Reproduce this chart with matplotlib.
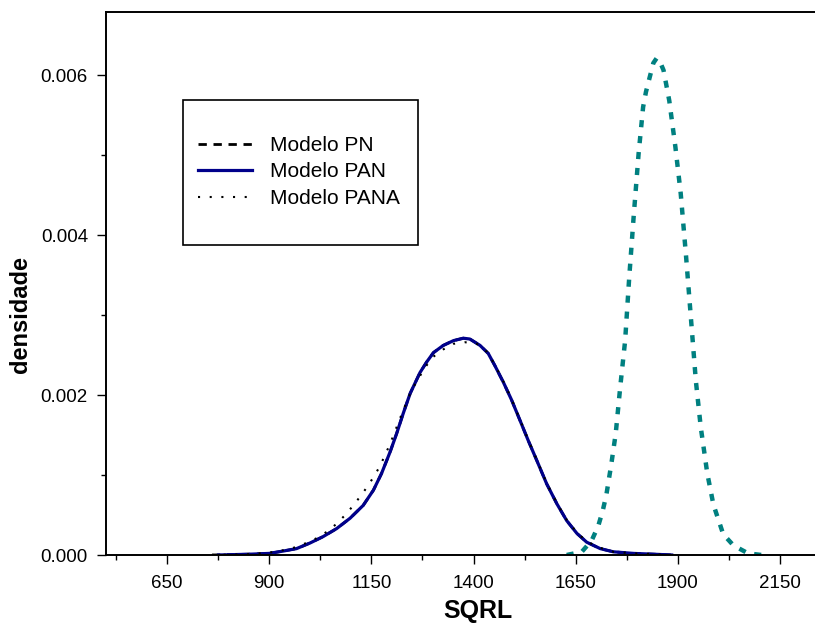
import numpy as np
import matplotlib
matplotlib.use("Agg")
import matplotlib.pyplot as plt
from matplotlib.patches import Rectangle
from matplotlib.ticker import FixedLocator, FormatStrFormatter

plt.rcParams['font.family'] = ['Liberation Sans', 'DejaVu Sans']

# curvas (densidade em unidades de 1e-3)
pan_x = [776, 853, 900, 935, 967, 1000, 1032, 1065, 1098, 1130, 1155, 1175, 1196,
         1212, 1228, 1245, 1269, 1285, 1302, 1326, 1351, 1375, 1391, 1416, 1436,
         1452, 1473, 1493, 1514, 1534, 1555, 1579, 1604, 1628, 1653, 1677, 1710,
         1742, 1791, 1840, 1885]
pan_y = [0.0, 0.01, 0.02, 0.05, 0.08, 0.15, 0.23, 0.33, 0.46, 0.62, 0.81, 1.02, 1.29,
         1.52, 1.77, 2.02, 2.28, 2.41, 2.53, 2.62, 2.68, 2.71, 2.70, 2.62, 2.52,
         2.37, 2.16, 1.94, 1.68, 1.43, 1.18, 0.89, 0.64, 0.43, 0.27, 0.16, 0.08,
         0.04, 0.02, 0.01, 0.0]

pn_x = [760, 853, 900, 935, 967, 1000, 1032, 1065, 1098, 1130, 1155, 1175, 1196,
        1212, 1228, 1245, 1269, 1285, 1302, 1326, 1351, 1375, 1391, 1416, 1436,
        1452, 1473, 1493, 1514, 1534, 1555, 1579, 1604, 1628, 1653, 1677, 1710,
        1742, 1791, 1840, 1884]
pn_y = [0.0, 0.01, 0.02, 0.05, 0.08, 0.15, 0.23, 0.33, 0.46, 0.62, 0.81, 1.02, 1.29,
        1.52, 1.77, 2.02, 2.28, 2.41, 2.53, 2.62, 2.68, 2.71, 2.70, 2.62, 2.52,
        2.37, 2.16, 1.94, 1.68, 1.43, 1.18, 0.89, 0.64, 0.43, 0.27, 0.16, 0.08,
        0.04, 0.02, 0.01, 0.0]

pana_x = [760, 853, 900, 935, 967, 1000, 1016, 1041, 1065, 1086, 1106, 1124, 1141,
          1156, 1171, 1196, 1218, 1240, 1253, 1282, 1302, 1326, 1351, 1379, 1408,
          1433, 1452, 1473, 1493, 1514, 1534, 1555, 1579, 1604, 1628, 1653, 1677,
          1710, 1742, 1791, 1840, 1884]
pana_y = [0.0, 0.01, 0.03, 0.06, 0.10, 0.17, 0.21, 0.29, 0.39, 0.50, 0.62, 0.74, 0.86,
          0.98, 1.11, 1.39, 1.68, 1.96, 2.10, 2.35, 2.48, 2.57, 2.64, 2.66, 2.64,
          2.54, 2.38, 2.17, 1.95, 1.69, 1.44, 1.19, 0.90, 0.65, 0.44, 0.28, 0.17,
          0.09, 0.04, 0.02, 0.01, 0.0]

outra_x = [1628, 1665, 1689, 1705, 1716, 1725, 1737, 1748, 1759, 1771, 1781, 1792,
           1804, 1815, 1822, 1832, 1840, 1848, 1856, 1865, 1879, 1894, 1907, 1920,
           1932, 1944, 1956, 1972, 1987, 2011, 2036, 2072, 2105]
outra_y = [0.0, 0.04, 0.18, 0.36, 0.55, 0.75, 1.13, 1.52, 2.10, 2.68, 3.47, 4.24,
           5.02, 5.60, 5.79, 5.99, 6.15, 6.21, 6.17, 6.06, 5.68, 5.10, 4.52, 3.74,
           2.96, 2.18, 1.60, 1.02, 0.63, 0.26, 0.12, 0.02, 0.0]

fig = plt.figure(figsize=(8.15, 6.26), dpi=100)
ax = fig.add_axes([106/815, 1 - 555/626, 1 - 106/815, (555 - 11.7)/626])

ax.plot(pn_x, np.array(pn_y)*1e-3, color='black', lw=2.0, ls=(0, (3, 2.4)),
        label='Modelo PN')
ax.plot(pan_x, np.array(pan_y)*1e-3, color='#00008b', lw=2.3, label='Modelo PAN')
ax.plot(pana_x, np.array(pana_y)*1e-3, color='black', lw=1.5, ls=(0, (1, 4.6)),
        label='Modelo PANA')
ax.plot(outra_x, np.array(outra_y)*1e-3, color='#008080', lw=3.2,
        ls=(0, (1.6, 2.0)), solid_capstyle='butt', dash_capstyle='butt')

ax.set_xlim(500.7, 2235.6)
ax.set_ylim(0, 0.006792)
ax.xaxis.set_major_locator(FixedLocator(np.arange(650, 2151, 250)))
ax.xaxis.set_minor_locator(FixedLocator(np.arange(525, 2236, 250)))
ax.yaxis.set_major_locator(FixedLocator([0, 0.002, 0.004, 0.006]))
ax.yaxis.set_minor_locator(FixedLocator([0.001, 0.003, 0.005]))
ax.yaxis.set_major_formatter(FormatStrFormatter('%.3f'))
ax.tick_params(which='major', length=6.5, width=1, direction='out', labelsize=13.5)
ax.tick_params(axis='x', which='major', pad=8)
ax.tick_params(axis='y', which='major', pad=6.5)
ax.tick_params(which='minor', length=3.6, width=1, direction='out')

# caixa do grafico: a borda direita fica fora da imagem
ax.spines['right'].set_visible(False)
for s in ['left', 'bottom', 'top']:
    ax.spines[s].set_linewidth(1.4)

ax.set_xlabel('SQRL', fontsize=18, fontweight='bold', labelpad=5, x=0.525)
ax.set_ylabel('densidade', fontsize=17, fontweight='bold', labelpad=6, y=0.442)

leg = ax.legend(loc='upper left', bbox_to_anchor=(198/815, 1 - 136/626),
                bbox_transform=fig.transFigure, frameon=False, fontsize=15,
                handlelength=2.6, handletextpad=0.87, labelspacing=0.36,
                borderpad=0, borderaxespad=0)
fig.patches.append(Rectangle((182.7/815, 1 - 245/626), (418 - 182.7)/815,
                             (245 - 100)/626, transform=fig.transFigure,
                             fill=False, edgecolor='black', lw=1.2))

plt.savefig('out.png', dpi=100)
